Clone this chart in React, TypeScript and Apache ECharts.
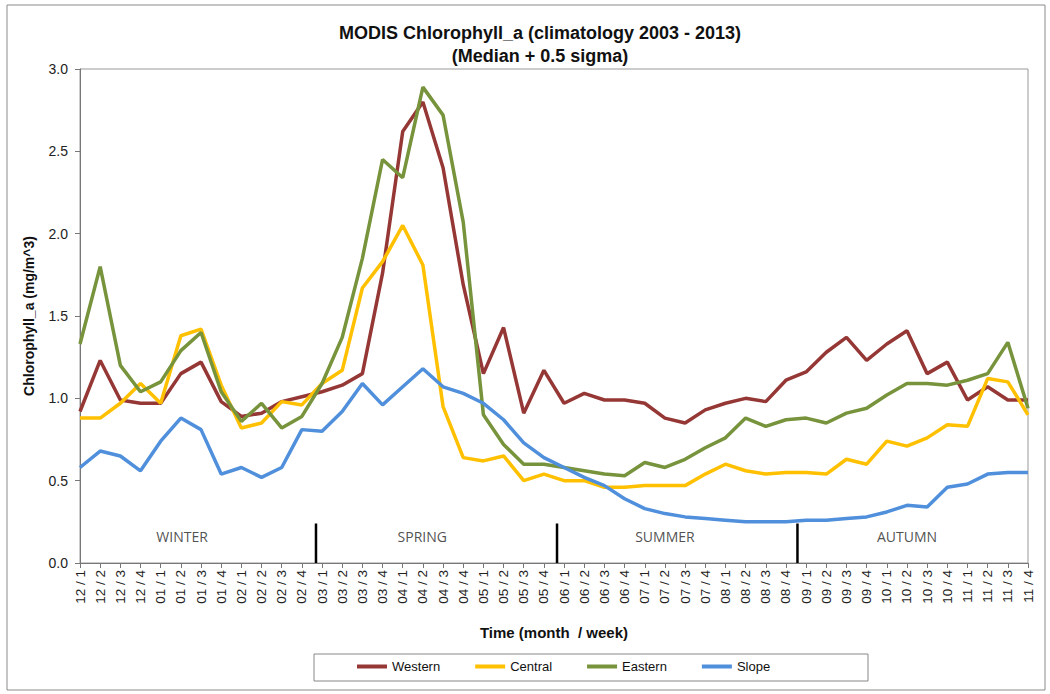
import React, { useEffect, useRef } from "react";
import * as echarts from "echarts";

const months = ["12", "01", "02", "03", "04", "05", "06", "07", "08", "09", "10", "11"];
const weeks = ["1", "2", "3", "4"];
const categories: string[] = [];
months.forEach((m) => weeks.forEach((w) => categories.push(`${m} / ${w}`)));

const western = [
  0.92, 1.23, 0.99, 0.97, 0.97, 1.15, 1.22, 0.98, 0.89, 0.91, 0.98, 1.01,
  1.04, 1.08, 1.15, 1.76, 2.62, 2.80, 2.40, 1.69, 1.15, 1.43, 0.91, 1.17,
  0.97, 1.03, 0.99, 0.99, 0.97, 0.88, 0.85, 0.93, 0.97, 1.0, 0.98, 1.11,
  1.16, 1.28, 1.37, 1.23, 1.33, 1.41, 1.15, 1.22, 0.99, 1.07, 0.99, 0.99,
];
const central = [
  0.88, 0.88, 0.97, 1.09, 0.97, 1.38, 1.42, 1.08, 0.82, 0.85, 0.98, 0.96,
  1.09, 1.17, 1.67, 1.83, 2.05, 1.81, 0.95, 0.64, 0.62, 0.65, 0.50, 0.54,
  0.50, 0.50, 0.46, 0.46, 0.47, 0.47, 0.47, 0.54, 0.60, 0.56, 0.54, 0.55,
  0.55, 0.54, 0.63, 0.60, 0.74, 0.71, 0.76, 0.84, 0.83, 1.12, 1.10, 0.90,
];
const eastern = [
  1.33, 1.80, 1.20, 1.04, 1.10, 1.29, 1.40, 1.04, 0.86, 0.97, 0.82, 0.89,
  1.09, 1.37, 1.85, 2.45, 2.34, 2.89, 2.72, 2.07, 0.90, 0.72, 0.60, 0.60,
  0.58, 0.56, 0.54, 0.53, 0.61, 0.58, 0.63, 0.70, 0.76, 0.88, 0.83, 0.87,
  0.88, 0.85, 0.91, 0.94, 1.02, 1.09, 1.09, 1.08, 1.11, 1.15, 1.34, 0.94,
];
const slope = [
  0.58, 0.68, 0.65, 0.56, 0.74, 0.88, 0.81, 0.54, 0.58, 0.52, 0.58, 0.81,
  0.80, 0.92, 1.09, 0.96, 1.07, 1.18, 1.07, 1.03, 0.97, 0.87, 0.73, 0.64,
  0.58, 0.52, 0.47, 0.39, 0.33, 0.30, 0.28, 0.27, 0.26, 0.25, 0.25, 0.25,
  0.26, 0.26, 0.27, 0.28, 0.31, 0.35, 0.34, 0.46, 0.48, 0.54, 0.55, 0.55,
];

const seriesNames = ["Western", "Central", "Eastern", "Slope"];
const seriesData = [western, central, eastern, slope];
const seriesColors = ["#953735", "#FFC000", "#77933C", "#4F8FDB"];

const seasons = ["WINTER", "SPRING", "SUMMER", "AUTUMN"];
const seasonLabelPos = [5.06, 16.97, 29.0, 41.0];
const seasonBoundaries = [11.7, 23.65, 35.57];

export default function App() {
  const ref = useRef<HTMLDivElement>(null);
  useEffect(() => {
    document.body.style.margin = "0";
    const chart = echarts.init(ref.current!, undefined, { renderer: "svg" });
    const font = "'Liberation Sans', Arial, sans-serif";
    const lineSeries: any[] = seriesNames.map((name, i) => ({
      name,
      type: "line",
      data: seriesData[i],
      symbol: "none",
      color: seriesColors[i],
      lineStyle: { width: 3.5, color: seriesColors[i] },
      z: 3,
    }));
    const sepSeries: any[] = seasonBoundaries.map((b, i) => ({
      name: "sep" + i,
      type: "line",
      xAxisIndex: 1,
      data: [
        [b, 0],
        [b, 0.24],
      ],
      symbol: "none",
      silent: true,
      lineStyle: { width: 2.5, color: "#000" },
      z: 4,
    }));
    const labelSeries = {
      name: "seasons",
      type: "scatter",
      xAxisIndex: 1,
      symbolSize: 0,
      silent: true,
      data: seasons.map((s, i) => ({ name: s, value: [seasonLabelPos[i], 0.16] })),
      label: {
        show: true,
        position: "inside",
        formatter: (p: any) => p.name,
        fontFamily: "'Open Sans', sans-serif",
        fontSize: 14,
        color: "#222",
      },
    };
    chart.setOption({
      animation: false,
      backgroundColor: "#fff",
      title: {
        text: "MODIS Chlorophyll_a (climatology 2003 - 2013)\n(Median + 0.5 sigma)",
        left: 535,
        textAlign: "center",
        top: 16,
        textStyle: {
          fontFamily: font,
          fontSize: 18,
          fontWeight: "bold",
          color: "#111",
          lineHeight: 23,
        },
      },
      graphic: [
        {
          type: "rect",
          shape: { x: 7, y: 5, width: 1038, height: 685 },
          style: { fill: "none", stroke: "#8a8a8a", lineWidth: 1 },
          silent: true,
        },
        {
          type: "rect",
          shape: { x: 314, y: 654, width: 554, height: 27 },
          style: { fill: "none", stroke: "#888", lineWidth: 1 },
          silent: true,
        },
      ],
      legend: {
        data: seriesNames,
        left: 357,
        top: 660,
        padding: 0,
        itemWidth: 30,
        itemHeight: 4,
        itemGap: 35,
        icon: "rect",
        textStyle: { fontFamily: font, fontSize: 13, color: "#111" },
      },
      grid: {
        left: 80,
        right: 22,
        top: 69,
        bottom: 131,
        show: true,
        borderColor: "#999",
        borderWidth: 1,
        containLabel: false,
      },
      xAxis: [
        {
          type: "category",
          data: categories,
          boundaryGap: false,
          name: "Time (month  / week)",
          nameLocation: "middle",
          nameGap: 62,
          nameTextStyle: { fontFamily: font, fontSize: 15, fontWeight: "bold", color: "#111" },
          axisLine: { lineStyle: { color: "#777", width: 1 } },
          axisTick: { show: true, length: 5, alignWithLabel: true, lineStyle: { color: "#777" } },
          axisLabel: {
            rotate: 90,
            interval: 0,
            margin: 7,
            fontFamily: font,
            fontSize: 13.5,
            color: "#222",
          },
          splitLine: { show: false },
        },
        {
          type: "value",
          min: 0,
          max: categories.length - 1,
          show: false,
        },
      ],
      yAxis: {
        type: "value",
        min: 0,
        max: 3,
        interval: 0.5,
        name: "Chlorophyll_a (mg/m^3)",
        nameLocation: "middle",
        nameGap: 44,
        nameTextStyle: { fontFamily: font, fontSize: 14, fontWeight: "bold", color: "#111" },
        axisLine: { show: true, lineStyle: { color: "#777", width: 1 } },
        axisTick: { show: true, length: 5, lineStyle: { color: "#777" } },
        axisLabel: {
          formatter: (v: number) => v.toFixed(1),
          margin: 12,
          fontFamily: font,
          fontSize: 14,
          color: "#222",
        },
        splitLine: { show: false },
      },
      series: [...lineSeries, ...sepSeries, labelSeries],
    });
    return () => chart.dispose();
  }, []);
  return (
    <div
      ref={ref}
      style={{ position: "absolute", left: 0, top: 0, width: 1050, height: 694 }}
    />
  );
}
